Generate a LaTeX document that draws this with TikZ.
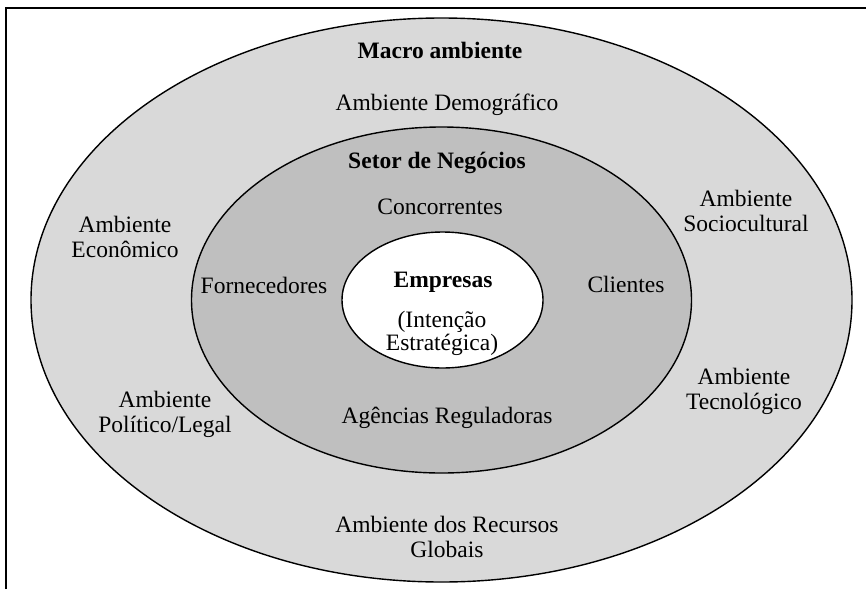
\documentclass[tikz,border=0pt]{standalone}
\usepackage{fontspec}
\setmainfont{Liberation Serif}
\usetikzlibrary{shapes.geometric}
\definecolor{macrofill}{RGB}{217,217,217}
\definecolor{setorfill}{RGB}{191,191,191}
\begin{document}
\begin{tikzpicture}[x=1pt,y=-1pt,
  ring/.style={ellipse, draw=black, line width=1.4pt, inner sep=0pt},
  lbl/.style={align=center, font=\fontsize{23.5}{25}\selectfont, inner sep=0pt},
  ttl/.style={lbl, font=\fontsize{23.5}{25}\selectfont\bfseries}]
  \useasboundingbox (0,0) rectangle (866,589);
  % frame (left and top edges)
  \coordinate (fb) at (6,589);
  \coordinate (fc) at (6,8);
  \coordinate (fr) at (866,8);
  \draw[line width=2pt] (fb) -- (fc) -- (fr);
  % nested environments
  \node[ring, fill=macrofill, minimum width=821pt, minimum height=564pt] (macro) at (441.5,300) {};
  \node[ring, fill=setorfill, minimum width=500pt, minimum height=346pt] (setor) at (441.5,300) {};
  \node[ring, fill=white, minimum width=201pt, minimum height=136pt] (emp) at (442.5,300) {};
  % macro environment labels
  \node[ttl] (tmacro) at (440,50) {Macro ambiente};
  \node[lbl] (demo) at (447,105) {Ambiente Demográfico};
  \node[lbl] (eco) at (125,236.5) {Ambiente\\Econômico};
  \node[lbl] (soc) at (746,211) {Ambiente\\Sociocultural};
  \node[lbl] (pol) at (165,414.5) {Ambiente\\Político/Legal};
  \node[lbl] (tec) at (744,391.5) {Ambiente\\Tecnológico};
  \node[lbl] (rec) at (447,537) {Ambiente dos Recursos\\Globais};
  % business sector labels
  \node[ttl] (tsetor) at (437,163) {Setor de Negócios};
  \node[lbl] (conc) at (440,207) {Concorrentes};
  \node[lbl] (forn) at (264,285) {Fornecedores};
  \node[lbl] (cli) at (626,284) {Clientes};
  \node[lbl] (ag) at (447,418) {Agências Reguladoras};
  % firm
  \node[ttl] (tempr) at (443,282) {Empresas};
  \node[lbl, font=\fontsize{23.5}{23}\selectfont] (int) at (442,333.5) {(Intenção\\Estratégica)};
\end{tikzpicture}
\end{document}
